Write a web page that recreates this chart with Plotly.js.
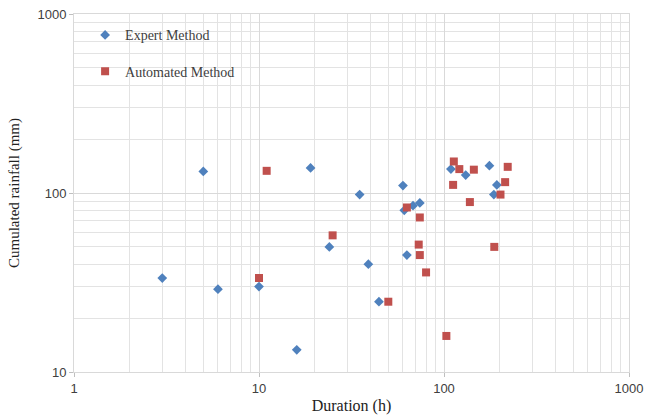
<!DOCTYPE html>
<html>
<head>
<meta charset="utf-8">
<script src="https://cdn.plot.ly/plotly-3.0.1.min.js"></script>
<style>html,body{margin:0;padding:0;background:#fff;}#chart{width:654px;height:416px;}</style>
</head>
<body>
<div id="chart"></div>
<script>
const expertDuration = [3, 5, 6, 10, 16, 19, 24, 35, 39, 44.5, 60, 61, 63, 68, 74, 109, 131, 176, 186, 193];
const expertRainfall = [33.5, 132, 29, 30, 13.3, 138, 50, 98, 40, 24.7, 110, 80, 45, 85, 88, 136, 126, 142, 98, 111];
const autoDuration = [10, 11, 25, 50, 63, 73, 74, 74, 80, 103, 112, 113, 121, 138, 145, 187, 202, 214, 221];
const autoRainfall = [33.5, 133, 58, 24.7, 83, 51.5, 73, 45, 36, 15.9, 111, 150, 136, 89, 135, 50, 98, 115, 140];
const seriesNames = ["Expert Method", "Automated Method"];
const xTitle = "Duration (h)";
const yTitle = "Cumulated rainfall (mm)";

const traces = [
  {x: expertDuration, y: expertRainfall, name: seriesNames[0], type: "scatter", mode: "markers",
   legendgroup: "a", marker: {symbol: "diamond", size: 7.5, color: "#4F81BD"}},
  {x: autoDuration, y: autoRainfall, name: seriesNames[1], type: "scatter", mode: "markers",
   legendgroup: "b", marker: {symbol: "square", size: 8, color: "#C0504D"}}
];

const axisCommon = {
  type: "log", showgrid: true, gridcolor: "#d9d9d9", gridwidth: 1,
  showline: true, linecolor: "#d9d9d9", mirror: true, zeroline: false,
  ticks: "outside", ticklen: 4, tickcolor: "#bfbfbf",
  tickfont: {family: "Liberation Sans, Arial, sans-serif", size: 13, color: "#404040"},
  minor: {dtick: "D1", showgrid: true, gridcolor: "#e3e3e3", gridwidth: 1, ticks: ""}
};

const layout = {
  width: 654, height: 416,
  margin: {l: 73.5, r: 25, t: 14, b: 43.7},
  paper_bgcolor: "#fff", plot_bgcolor: "#fff",
  showlegend: true,
  legend: {x: 0.02, y: 0.985, xanchor: "left", yanchor: "top", bgcolor: "rgba(0,0,0,0)",
    font: {family: "Liberation Serif, Times New Roman, serif", size: 14, color: "#404040"},
    tracegroupgap: 15, itemwidth: 30},
  xaxis: Object.assign({}, axisCommon, {
    range: [0, 3], dtick: 1,
    title: {text: xTitle, standoff: 5, font: {family: "Liberation Serif, Times New Roman, serif", size: 16, color: "#222"}}
  }),
  yaxis: Object.assign({}, axisCommon, {
    range: [1, 3], dtick: 1,
    title: {text: yTitle, standoff: 14, font: {family: "Liberation Serif, Times New Roman, serif", size: 15, color: "#222"}}
  })
};

Plotly.newPlot("chart", traces, layout, {displayModeBar: false, staticPlot: true});
</script>
</body>
</html>
